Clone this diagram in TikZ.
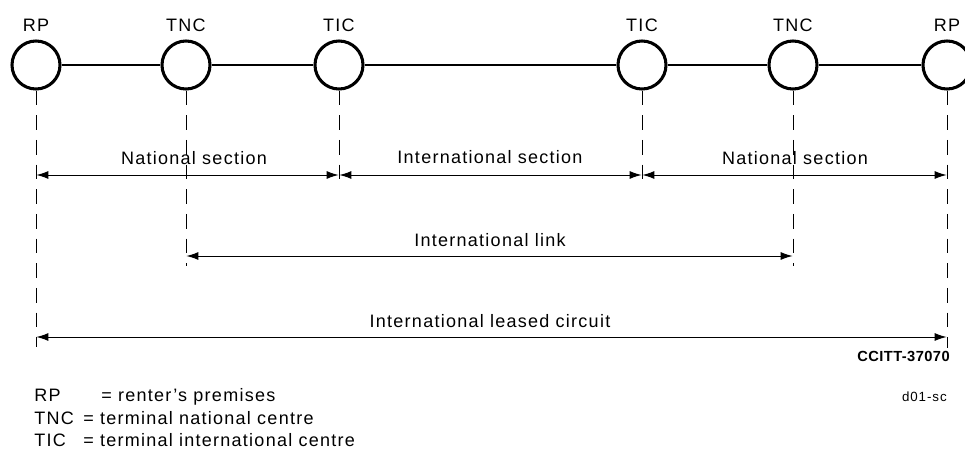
\documentclass[tikz,border=0pt]{standalone}
\usepackage{fontspec}
\setmainfont{Liberation Sans}[LetterSpace=7]
\newfontfamily\tagfont{Liberation Sans}[LetterSpace=3]
\usetikzlibrary{arrows.meta}

\tikzset{
  station/.style={circle, draw, line width=2.3pt, minimum size=36pt, inner sep=0pt},
  stname/.style={anchor=base, inner sep=0pt, font=\fontsize{13.5}{15}\selectfont},
  guide/.style={line width=0.7pt, dash pattern=on 11pt off 7.5pt},
  span/.style={line width=0.7pt, {Latex[length=9pt,width=6pt]}-{Latex[length=9pt,width=6pt]}, shorten <=0.3pt, shorten >=0.3pt},
  spantext/.style={anchor=base, inner sep=0pt, font=\fontsize{13.5}{15}\selectfont},
  legend/.style={anchor=base west, inner sep=0pt, font=\fontsize{13.5}{15}\selectfont}
}

\begin{document}
\begin{tikzpicture}[x=0.75pt, y=-0.75pt]%
\useasboundingbox (0,0) rectangle (965,449);%
\clip (0,0) rectangle (965,449);%
% stations along the circuit
\node[station] (rpA) at (36,65) {};%
\node[station] (tncA) at (186,65) {};%
\node[station] (ticA) at (339,65) {};%
\node[station] (ticB) at (642,65) {};%
\node[station] (tncB) at (793,65) {};%
\node[station] (rpB) at (947,65) {};%
\draw[line width=1.1pt] (rpA) -- (tncA) -- (ticA) -- (ticB) -- (tncB) -- (rpB);%
\node[stname] (rpAl) at (36,32) {RP};%
\node[stname] (tncAl) at (186,32) {TNC};%
\node[stname] (ticAl) at (339,32) {TIC};%
\node[stname] (ticBl) at (642,32) {TIC};%
\node[stname] (tncBl) at (793,32) {TNC};%
\node[stname] (rpBl) at (947,32) {RP};%
% dashed guide lines
\coordinate (rpAe) at (36,347);%
\coordinate (tncAe) at (186,266);%
\coordinate (ticAe) at (339,185);%
\coordinate (ticBe) at (642,185);%
\coordinate (tncBe) at (793,266);%
\coordinate (rpBe) at (947,348);%
\foreach \s in {rpA,tncA,ticA,ticB,tncB,rpB}
  \draw[guide] (\s.south) -- (\s e);%
% spans
\coordinate (secY) at (0,175);%
\coordinate (linkY) at (0,256);%
\coordinate (lcY) at (0,337);%
\draw[span] (rpA |- secY) -- (ticA |- secY);%
\draw[span] (ticA |- secY) -- (ticB |- secY);%
\draw[span] (ticB |- secY) -- (rpB |- secY);%
\draw[span] (tncA |- linkY) -- (tncB |- linkY);%
\draw[span] (rpA |- lcY) -- (rpB |- lcY);%
\node[spantext] (natA) at (194,165) {National section};%
\node[spantext] (intsec) at (490,164) {International section};%
\node[spantext] (natB) at (795,165) {National section};%
\node[spantext] (intlink) at (490,247) {International link};%
\node[spantext] (ilc) at (490,328) {International leased circuit};%
% tags
\node[anchor=base east, inner sep=0pt, font=\tagfont\fontsize{11}{13}\selectfont\bfseries] (tag) at (950,361) {CCITT-37070};%
\node[anchor=base east, inner sep=0pt, font=\fontsize{10}{12}\selectfont] (dsc) at (947,402) {d01-sc};%
% legend
\node[legend] (k1) at (34,402) {RP};%
\node[legend] (v1) at (101,402) {= renter’s premises};%
\node[legend] (k2) at (34,424) {TNC};%
\node[legend] (v2) at (83,424) {= terminal national centre};%
\node[legend] (k3) at (34,446) {TIC};%
\node[legend] (v3) at (83,446) {= terminal international centre};%
\end{tikzpicture}
\end{document}
